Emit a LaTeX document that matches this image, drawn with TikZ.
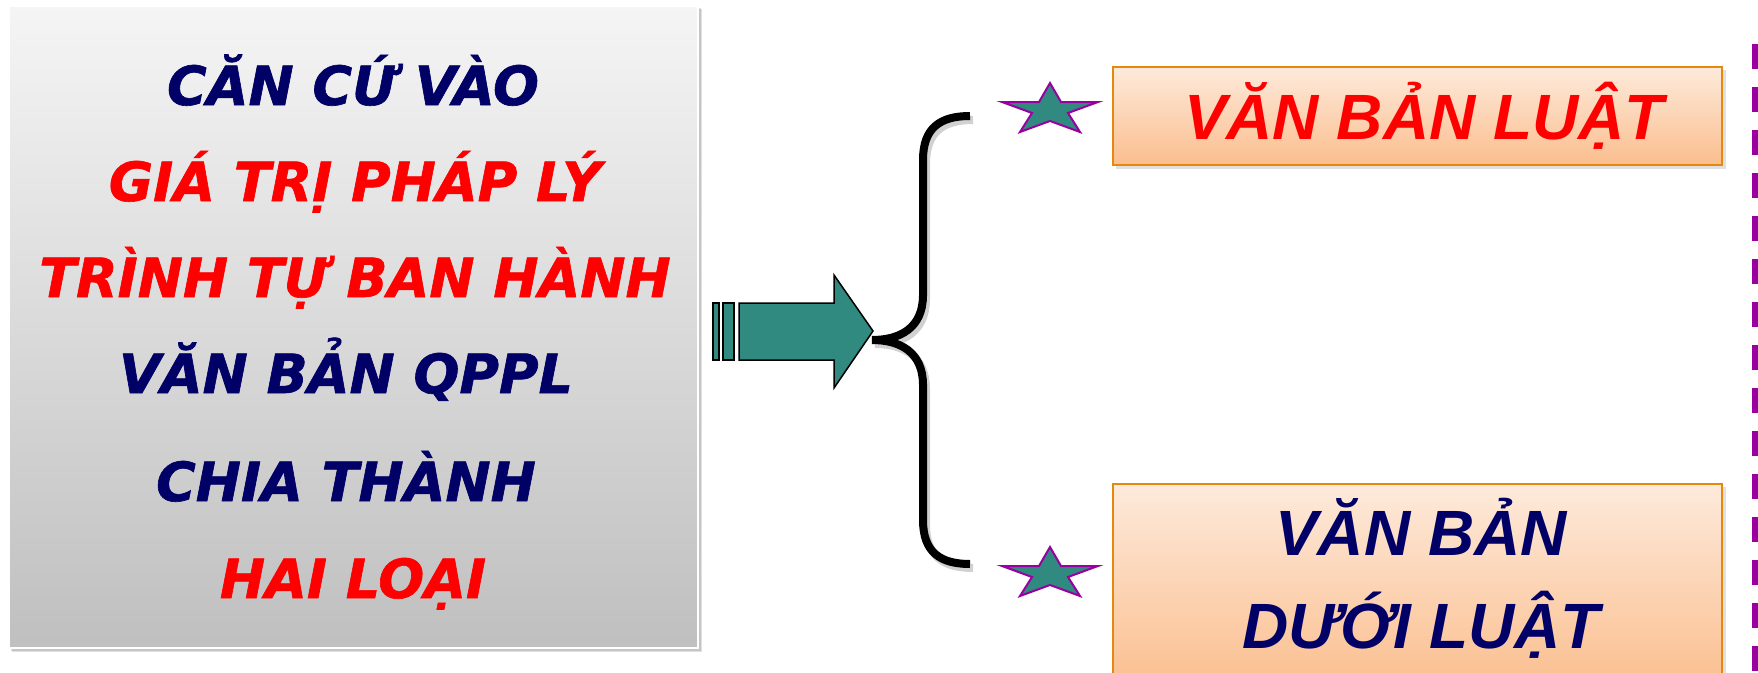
\documentclass[tikz,border=0pt]{standalone}
\usepackage{fontspec}
\usepackage{graphicx}
\newfontfamily\vfont{DejaVu Sans}[BoldItalicFeatures={FakeBold=1.2}]
\newfontfamily\afont{Liberation Sans}
\definecolor{navy}{RGB}{0,0,102}
\definecolor{redt}{RGB}{255,0,0}
\definecolor{teal2}{RGB}{49,138,128}
\definecolor{purp}{RGB}{153,0,160}
\definecolor{orbord}{RGB}{228,137,13}
\definecolor{pchtop}{RGB}{253,234,219}
\definecolor{pchbot}{RGB}{251,190,142}
\tikzset{
  lefttext/.style={anchor=base,inner sep=0pt,font=\vfont\bfseries\itshape\fontsize{54}{60}\selectfont},
  righttext/.style={anchor=base,inner sep=0pt,font=\afont\bfseries\itshape\fontsize{64}{70}\selectfont},
  shadowbox/.style={fill=black,opacity=0.12},
  starshape/.style={fill=teal2,draw=purp,line width=2pt,line join=miter},
  arrowshape/.style={fill=teal2,draw=black,line width=1.5pt,line join=miter},
}
\begin{document}
\begin{tikzpicture}[x=1pt,y=-1pt]
\useasboundingbox (0,0) rectangle (1758,672);
% left box
\fill[shadowbox] (12,9) rectangle (702,652);
\fill[shadowbox] (11,8) rectangle (701,651);
\shade[top color=black!4,bottom color=black!25] (9,6) rectangle (698,648);
\draw[white,line width=2pt] (9,6) rectangle (698,648);
\node[lefttext,navy] (l1) at (353,105) {CĂN CỨ VÀO};
\node[lefttext,redt] (l2) at (355,201) {GIÁ TRỊ PHÁP LÝ};
\node[lefttext,redt] (l3) at (355,297) {TRÌNH TỰ BAN HÀNH};
\node[lefttext,navy] (l4) at (346,393) {VĂN BẢN QPPL};
\node[lefttext,navy] (l5) at (346,501) {CHIA THÀNH};
\node[lefttext,redt] (l6) at (353,598) {HAI LOẠI};
% arrow
\draw[arrowshape] (713,303) rectangle (719,360);
\draw[arrowshape] (723,303) rectangle (734,360);
\draw[arrowshape] (739,303) -- (834,303) -- (834,275) -- (873,331) -- (834,388) -- (834,360) -- (739,360) -- cycle;
% brace
\draw[black!30,line width=8pt,opacity=0.6] (973,120) .. controls (943,120) and (926,132) .. (926,164) -- (926,299) .. controls (926,332) and (903,344) .. (875,344) .. controls (903,344) and (926,356) .. (926,389) -- (926,524) .. controls (926,556) and (943,568) .. (973,568);
\draw[black,line width=8pt] (970,116) .. controls (940,116) and (923,128) .. (923,160) -- (923,295) .. controls (923,328) and (900,340) .. (872,340) .. controls (900,340) and (923,352) .. (923,385) -- (923,520) .. controls (923,552) and (940,564) .. (970,564);
% stars
\foreach \sy in {83,547}{
\draw[starshape] (1050,\sy) -- ++(11,19) -- ++(37,0) -- ++(-30,11) -- ++(12,19) -- ++(-30,-11) -- ++(-30,11) -- ++(12,-19) -- ++(-30,-11) -- ++(37,0) -- cycle;
}
% top right box
\fill[shadowbox] (1116,70) rectangle (1726,169);
\shade[top color=pchtop,bottom color=pchbot] (1113,67) rectangle (1722,165);
\draw[orbord,line width=2pt] (1113,67) rectangle (1722,165);
\node[righttext,redt] (r1) at (1424,139) {VĂN BẢN LUẬT};
% bottom right box
\fill[shadowbox] (1116,487) rectangle (1726,700);
\shade[top color=pchtop,bottom color=pchbot] (1113,484) rectangle (1722,690);
\draw[orbord,line width=2pt] (1113,484) rectangle (1722,700);
\node[righttext,navy] (r2) at (1421,555) {VĂN BẢN};
\node[righttext,navy] (r3) at (1421,648) {DƯỚI LUẬT};
% dashed line
\draw[purp,line width=6pt,dash pattern=on 25pt off 18pt] (1755,44) -- (1755,690);
\end{tikzpicture}
\end{document}
